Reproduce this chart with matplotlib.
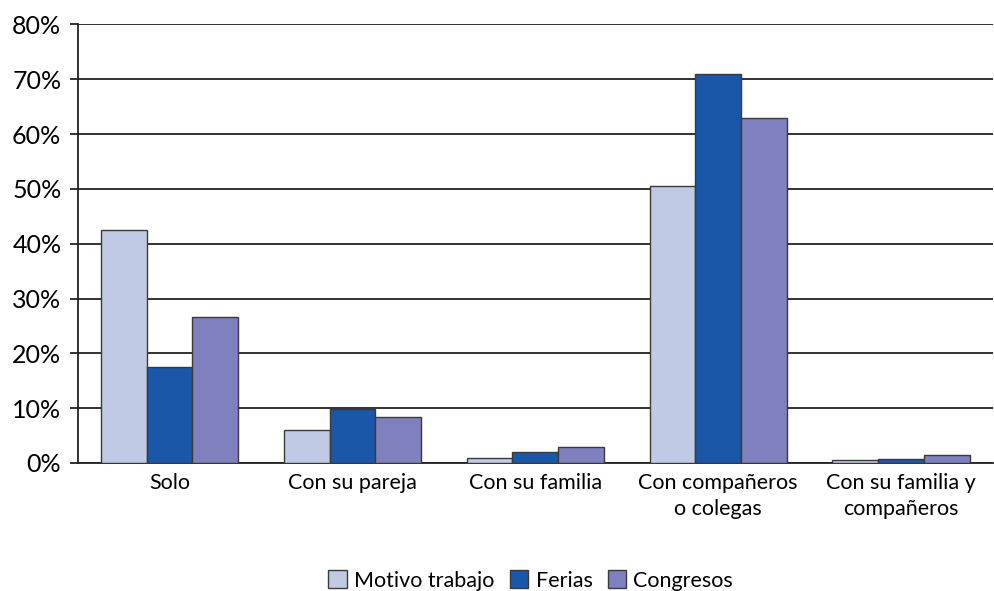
import matplotlib.pyplot as plt
import numpy as np

categories = ['Solo', 'Con su pareja', 'Con su familia',
              'Con compañeros\no colegas', 'Con su familia y\ncompañeros']
series_names = ['Motivo trabajo', 'Ferias', 'Congresos']
motivo_trabajo = [42.5, 6.0, 1.0, 50.5, 0.5]
ferias = [17.6, 9.9, 2.0, 70.9, 0.7]
congresos = [26.6, 8.4, 2.9, 62.9, 1.5]
y_ticks = [0, 10, 20, 30, 40, 50, 60, 70, 80]

colors = ['#C0CAE5', '#1A57A8', '#7F80BE']

plt.rcParams['font.family'] = ['Lato', 'DejaVu Sans']

fig = plt.figure(figsize=(9.94, 5.91), dpi=100)
ax = fig.add_axes([0.0785, 0.2166, 0.92, 0.742])

x = np.arange(len(categories))
w = 0.25
for i, (vals, name) in enumerate(zip([motivo_trabajo, ferias, congresos], series_names)):
    ax.bar(x + (i - 1) * w, vals, width=w, color=colors[i], edgecolor='#3a3a3a',
           linewidth=1.0, label=name, zorder=3)

ax.set_xlim(-0.5, len(categories) - 0.5)
ax.set_ylim(0, 80)
ax.set_yticks(y_ticks)
ax.set_yticklabels([f'{t}%' for t in y_ticks], fontsize=18)
ax.set_xticks(x)
ax.set_xticklabels(categories, fontsize=15.5, linespacing=1.4)
ax.tick_params(axis='x', length=0, pad=7)
ax.tick_params(axis='y', length=6, width=1.3, color='#222222', pad=6)
ax.yaxis.grid(True, color='#222222', linewidth=1.3, zorder=0)

for s in ['top', 'right']:
    ax.spines[s].set_visible(False)
ax.spines['left'].set_linewidth(1.3)
ax.spines['bottom'].set_linewidth(1.3)
ax.spines['left'].set_color('#222222')
ax.spines['bottom'].set_color('#222222')

fig.legend(loc='lower center', bbox_to_anchor=(0.534, -0.032), ncol=3, frameon=False,
           fontsize=15.5, handlelength=0.85, handleheight=0.85, handletextpad=0.35,
           columnspacing=0.7)

plt.savefig('out.png', dpi=100)
